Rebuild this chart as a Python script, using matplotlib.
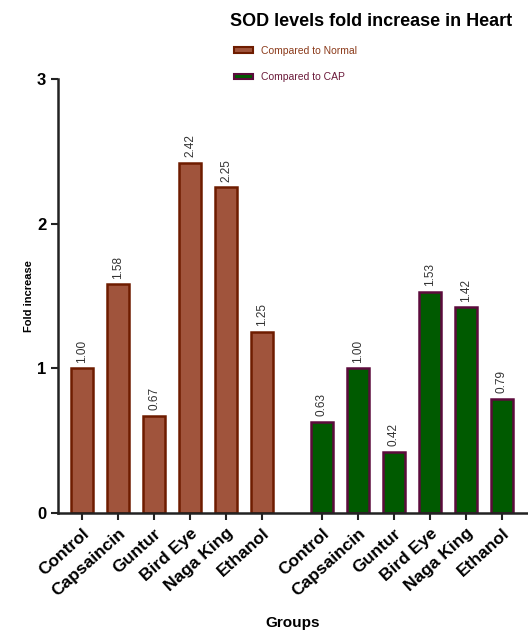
import matplotlib.pyplot as plt
from matplotlib.patches import Patch

plt.rcParams['font.family'] = ['Liberation Sans', 'DejaVu Sans']

groups = ['Control', 'Capsaincin', 'Guntur', 'Bird Eye', 'Naga King', 'Ethanol']
vs_normal = [1.00, 1.58, 0.67, 2.42, 2.25, 1.25]
vs_cap = [0.63, 1.00, 0.42, 1.53, 1.42, 0.79]

brown_fill, brown_edge = '#A0543C', '#6E1C00'
green_fill, green_edge = '#005A00', '#5C0B3C'

fig = plt.figure(figsize=(5.28, 6.35), dpi=100)
ax = fig.add_axes([0.110, 0.192, 0.890, 0.684])

pos1 = list(range(len(groups)))
pos2 = [p + 6.67 for p in pos1]
w = 0.62

b1 = ax.bar(pos1, vs_normal, width=w, color=brown_fill, edgecolor=brown_edge, linewidth=1.8)
b2 = ax.bar(pos2, vs_cap, width=w, color=green_fill, edgecolor=green_edge, linewidth=1.8)

for bars, vals in ((b1, vs_normal), (b2, vs_cap)):
    for b, v in zip(bars, vals):
        ax.text(b.get_x() + b.get_width() / 2, v + 0.04, f'{v:.2f}', rotation=90,
                ha='center', va='bottom', fontsize=8.5, color='#333333')

ax.set_xlim(-0.67, 12.4)
ax.set_ylim(0, 3)
ax.set_yticks([0, 1, 2, 3])
ax.set_xticks(pos1 + pos2)
ax.set_xticklabels(groups + groups, rotation=42, ha='right', rotation_mode='anchor',
                   fontsize=12.5, fontweight='bold')
for lbl in ax.get_yticklabels():
    lbl.set_fontweight('bold')
    lbl.set_fontsize(12)
ax.tick_params(axis='both', direction='out', length=5, width=1.5, color='#222222')
ax.tick_params(axis='x', pad=4)
for s in ('top', 'right'):
    ax.spines[s].set_visible(False)
for s in ('left', 'bottom'):
    ax.spines[s].set_linewidth(1.8)
    ax.spines[s].set_color('#222222')

ax.set_ylabel('Fold increase', fontsize=8, fontweight='bold', labelpad=2)
ax.set_xlabel('Groups', fontsize=11, fontweight='bold', labelpad=12)
fig.text(0.703, 0.966, 'SOD levels fold increase in Heart', ha='center', va='center',
         fontsize=13, fontweight='bold')

handles = [Patch(facecolor=brown_fill, edgecolor=brown_edge, linewidth=1.5),
           Patch(facecolor=green_fill, edgecolor=green_edge, linewidth=1.5)]
leg = fig.legend(handles, ['Compared to Normal', 'Compared to CAP'], loc='upper left',
                 bbox_to_anchor=(0.425, 0.943), frameon=False, fontsize=7.5,
                 handlelength=1.8, handleheight=0.45, labelspacing=1.6)
leg.get_texts()[0].set_color('#8B3A1A')
leg.get_texts()[1].set_color('#6B1A3A')

fig.savefig('out.png', dpi=100)
